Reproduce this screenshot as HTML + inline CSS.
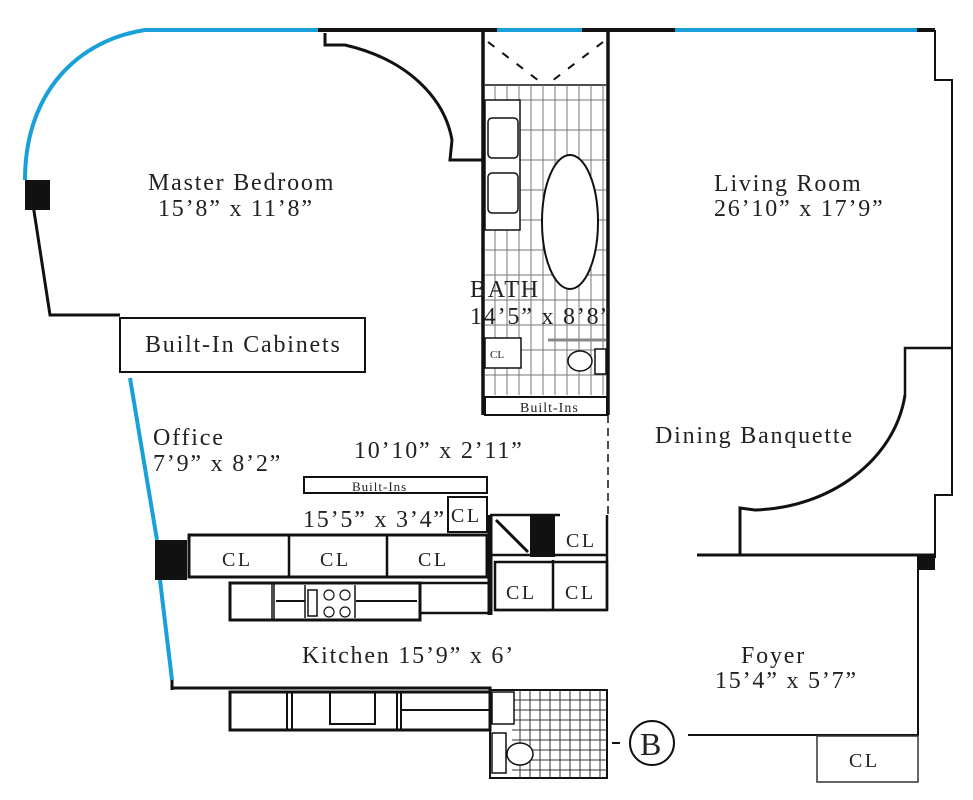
<!DOCTYPE html>
<html><head><style>
html,body{margin:0;padding:0;background:#fff;width:973px;height:800px;overflow:hidden}
svg text{font-family:"Liberation Serif",serif;fill:#222}
</style></head><body>
<svg width="973" height="800" viewBox="0 0 973 800" xmlns="http://www.w3.org/2000/svg">
<g fill="none" stroke-linecap="butt">
<path d="M25 180 C25 90 80 40 145 30 L318 30" stroke="#1aa0d8" stroke-width="4"/>
<path d="M497 30 L582 30 M675 30 L917 30" stroke="#1aa0d8" stroke-width="4"/>
<path d="M130 378 L157 540 M160 580 L172 680" stroke="#1aa0d8" stroke-width="4"/>
<path d="M318 30 L497 30 M582 30 L675 30 M917 30 L935 30" stroke="#111" stroke-width="4"/>
<path d="M935 30 L935 80 L952 80 L952 495 L935 495 L935 558" stroke="#111" stroke-width="2"/>
<path d="M905 395 L905 348 L952 348" stroke="#111" stroke-width="2.5"/>
<path d="M905 395 C895 460 830 508 755 510 L740 508 L740 555" stroke="#111" stroke-width="3"/>
<path d="M697 555 L935 555" stroke="#111" stroke-width="3"/>
<path d="M918 555 L918 735 L688 735" stroke="#111" stroke-width="2"/>
<rect x="817" y="736" width="101" height="46" stroke="#333" stroke-width="1.5"/>
<path d="M30 185 L50 315 L120 315" stroke="#111" stroke-width="3"/>
<path d="M325 33 L325 45 L345 45 C410 60 445 100 452 140 L450 160 L483 160" stroke="#111" stroke-width="3"/>
<rect x="120" y="318" width="245" height="54" stroke="#111" stroke-width="2"/>
<path d="M483 30 L483 415 M608 30 L608 415" stroke="#111" stroke-width="3.5"/>
<path d="M488 42 L543 84 M603 42 L548 84" stroke="#111" stroke-width="2" stroke-dasharray="8 10"/>
<line x1="485" y1="85" x2="606" y2="85" stroke="#111" stroke-width="1.5"/>
<g stroke="#777" stroke-width="1">
<path d="M495 85V395 M507 85V395 M519 85V395 M531 85V395 M543 85V395 M555 85V395 M567 85V395 M579 85V395 M591 85V395 M603 85V395"/>
<path d="M485 100H606 M485 130H606 M485 160H606 M485 190H606 M485 220H606 M485 250H606 M485 275H606 M485 300H606 M485 325H606 M485 350H606 M485 375H606"/>
</g>
<rect x="485" y="100" width="35" height="130" fill="#fff" stroke="#111" stroke-width="1.5"/>
<rect x="488" y="118" width="30" height="40" rx="4" stroke="#111" stroke-width="1.5"/>
<rect x="488" y="173" width="30" height="40" rx="4" stroke="#111" stroke-width="1.5"/>
<ellipse cx="570" cy="222" rx="28" ry="67" fill="#fff" stroke="#111" stroke-width="2"/>
<rect x="485" y="338" width="36" height="30" fill="#fff" stroke="#111" stroke-width="1.5"/>
<line x1="548" y1="340" x2="606" y2="340" stroke="#888" stroke-width="3"/>
<ellipse cx="580" cy="361" rx="12" ry="10" fill="#fff" stroke="#111" stroke-width="1.5"/>
<rect x="595" y="349" width="11" height="25" fill="#fff" stroke="#111" stroke-width="1.5"/>
<rect x="485" y="397" width="122" height="18" fill="#fff" stroke="#111" stroke-width="2"/>
<line x1="608" y1="415" x2="608" y2="515" stroke="#111" stroke-width="1.5" stroke-dasharray="8 5"/>
<rect x="155" y="540" width="32" height="40" fill="#111"/>
<rect x="25" y="180" width="25" height="30" fill="#111"/>
<rect x="918" y="555" width="17" height="15" fill="#111"/>
<rect x="304" y="477" width="183" height="16" stroke="#111" stroke-width="2"/>
<rect x="448" y="497" width="39" height="35" stroke="#111" stroke-width="2"/>
<rect x="189" y="535" width="298" height="42" stroke="#111" stroke-width="3"/>
<path d="M289 535V577 M387 535V577" stroke="#111" stroke-width="2.5"/>
<rect x="230" y="583" width="190" height="37" stroke="#111" stroke-width="3"/>
<path d="M272 583V620 M274 583V620 M305 585V618 M355 585V618" stroke="#111" stroke-width="1.5"/>
<path d="M276 601H305 M356 601H417" stroke="#111" stroke-width="2"/>
<rect x="308" y="590" width="9" height="26" stroke="#111" stroke-width="1.5"/>
<circle cx="329" cy="595" r="5" stroke="#111" stroke-width="1.2"/><circle cx="345" cy="595" r="5" stroke="#111" stroke-width="1.2"/>
<circle cx="329" cy="612" r="5" stroke="#111" stroke-width="1.2"/><circle cx="345" cy="612" r="5" stroke="#111" stroke-width="1.2"/>
<rect x="420" y="583" width="70" height="30" stroke="#111" stroke-width="2.5"/>
<path d="M490 515V615" stroke="#111" stroke-width="5"/>
<path d="M490 515H560 M490 555H607 M607 515V610 M495 610H607 M553 560V610" stroke="#111" stroke-width="2.5"/>
<path d="M496 520L528 552" stroke="#111" stroke-width="3"/>
<rect x="530" y="515" width="25" height="42" fill="#111"/>
<rect x="495" y="562" width="112" height="48" stroke="#111" stroke-width="2.5"/>
<path d="M172 680V690 M172 688H490 V692" stroke="#111" stroke-width="3"/>
<rect x="230" y="692" width="260" height="38" stroke="#111" stroke-width="3"/>
<path d="M287 692V730 M292 692V730 M397 692V730 M401 692V730" stroke="#111" stroke-width="2"/>
<rect x="330" y="692" width="45" height="32" stroke="#111" stroke-width="2"/>
<path d="M402 710H490" stroke="#111" stroke-width="2"/>
<rect x="490" y="690" width="117" height="88" stroke="#111" stroke-width="2"/>
<g stroke="#333" stroke-width="1">
<path d="M520 690V778 M530 690V778 M540 690V778 M550 690V778 M560 690V778 M570 690V778 M580 690V778 M590 690V778 M600 690V778"/>
<path d="M512 700H607 M512 710H607 M512 720H607 M512 730H607 M512 740H607 M512 750H607 M512 760H607 M512 770H607"/>
</g>
<rect x="492" y="692" width="22" height="32" fill="#fff" stroke="#111" stroke-width="1.5"/>
<rect x="492" y="733" width="14" height="40" fill="#fff" stroke="#111" stroke-width="1.5"/>
<ellipse cx="520" cy="754" rx="13" ry="11" fill="#fff" stroke="#111" stroke-width="1.5"/>
<path d="M612 743H620" stroke="#111" stroke-width="2"/>
<circle cx="652" cy="743" r="22" stroke="#111" stroke-width="2"/>
</g>
<g font-size="24" letter-spacing="1.8">
<text x="148" y="190">Master Bedroom</text>
<text x="158" y="216">15’8” x 11’8”</text>
<text x="145" y="352">Built-In Cabinets</text>
<text x="714" y="191">Living Room</text>
<text x="714" y="216">26’10” x 17’9”</text>
<text x="470" y="297">BATH</text>
<text x="470" y="324">14’5” x 8’8”</text>
<text x="655" y="443">Dining Banquette</text>
<text x="153" y="445">Office</text>
<text x="153" y="471">7’9” x 8’2”</text>
<text x="354" y="458">10’10” x 2’11”</text>
<text x="303" y="527">15’5” x 3’4”</text>
<text x="302" y="663">Kitchen  15’9” x 6’</text>
<text x="741" y="663">Foyer</text>
<text x="715" y="688">15’4” x 5’7”</text>
</g>
<g font-size="20" letter-spacing="2.5">
<text x="222" y="566">CL</text><text x="320" y="566">CL</text><text x="418" y="566">CL</text>
<text x="451" y="522">CL</text><text x="566" y="547">CL</text>
<text x="506" y="599">CL</text><text x="565" y="599">CL</text>
<text x="849" y="767" fill="#444">CL</text>
</g>
<text x="520" y="412" font-size="14" letter-spacing="1">Built-Ins</text>
<text x="352" y="491" font-size="13" letter-spacing="1">Built-Ins</text>
<text x="490" y="358" font-size="11">CL</text>
<text x="640" y="755" font-size="32">B</text>
</svg>
</body></html>
